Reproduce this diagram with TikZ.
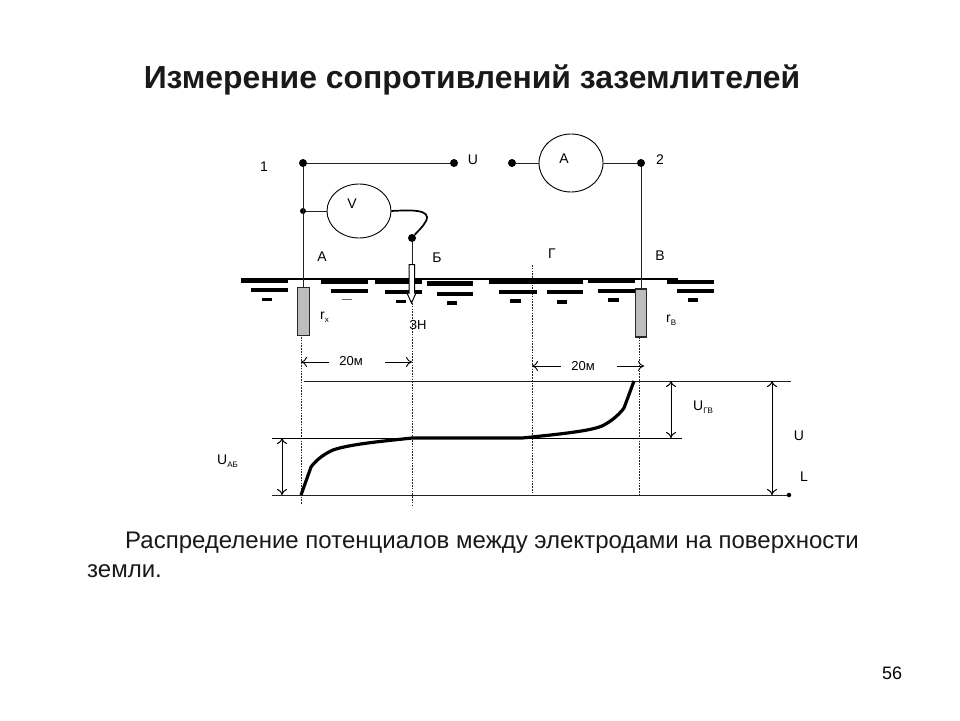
\documentclass[tikz,border=0pt]{standalone}
\usepackage{fontspec}
\setmainfont{Liberation Sans}
\usetikzlibrary{arrows.meta,shapes.geometric}
\newcommand{\fsz}[1]{\fontsize{#1}{#1}\selectfont}
\newcommand{\lbl}[2]{#1\raisebox{-2.5pt}{\fsz{8}#2}}
\definecolor{wire}{HTML}{222222}
\definecolor{elec}{HTML}{BDBDBD}
\tikzset{
  wireline/.style={draw=wire,line width=0.9pt},
  thinline/.style={draw=black,line width=1pt},
  levelline/.style={draw=wire,line width=0.9pt},
  dotnode/.style={circle,fill=black,inner sep=0pt,minimum size=8pt},
  smalldot/.style={circle,fill=black,inner sep=0pt,minimum size=6pt},
  enddot/.style={circle,fill=black,inner sep=0pt,minimum size=4.5pt},
  meter/.style={ellipse,draw=black,line width=0.9pt,fill=white,inner sep=0pt},
  electrode/.style={draw=black!85,line width=1.4pt,fill=elec},
  earthA/.style={line width=4.5pt,black},
  earthB/.style={line width=4pt,black},
  earthC/.style={line width=3.5pt,black},
  probe/.style={dash pattern=on 1.6pt off 1.2pt,line width=0.8pt,draw=wire},
  dimarrow/.style={line width=0.9pt,black,-{Computer Modern Rightarrow[length=6pt,width=10pt]}},
  dblarrow/.style={line width=1pt,black,{Computer Modern Rightarrow[length=6pt,width=10pt]}-{Computer Modern Rightarrow[length=6pt,width=10pt]}},
  curveline/.style={line width=3.2pt,black,line join=round},
  lab/.style={inner sep=0pt,font=\fsz{14}},
  sublab/.style={inner sep=0pt,font=\fsz{13}},
  ttl/.style={inner sep=0pt,font=\fsz{31.9}\bfseries,text=black!90},
  para/.style={inner sep=0pt,anchor=base west,font=\fsz{24},text=black!90}
}
\begin{document}
\begin{tikzpicture}[x=1pt,y=-1pt]
\path[use as bounding box,fill=white] (0,0) rectangle (960,720);
% title and text
\node[ttl] (title) at (472,80) {Измерение сопротивлений заземлителей};
\node[para] (p1) at (125,548) {Распределение потенциалов между электродами на поверхности};
\node[para] (p2) at (87,577) {земли.};
\node[lab,font=\fsz{18}] (page) at (892,673) {56};
% dashed verticals
\coordinate (dAt) at (301,337); \coordinate (dAb) at (301,505);
\coordinate (dBt) at (412,303); \coordinate (dBb) at (412,505);
\coordinate (dGt) at (532,265); \coordinate (dGb) at (532,495);
\coordinate (dVt) at (639,337); \coordinate (dVb) at (639,495);
\draw[probe] (dAt) -- (dAb);
\draw[probe] (dBt) -- (dBb);
\draw[probe] (dGt) -- (dGb);
\draw[probe] (dVt) -- (dVb);
% earth hatching
\draw[line width=2pt] (241,279) -- (678,279);
\draw[earthA] (241,280.5) -- (288,280.5);
\draw[earthA] (321,282) -- (368,282);
\draw[earthA] (375,282) -- (422,282);
\draw[earthA] (427,283.5) -- (473,283.5);
\draw[earthA] (489,282) -- (537,282);
\draw[earthA] (537,282) -- (583,282);
\draw[earthA] (588,281) -- (635,281);
\draw[earthA] (667,282) -- (714,282);
\draw[earthB] (251,290) -- (288,290);
\draw[earthB] (331,291) -- (368,291);
\draw[earthB] (385,292) -- (422,292);
\draw[earthB] (437,293.5) -- (473,293.5);
\draw[earthB] (499,292) -- (537,292);
\draw[earthB] (547,292) -- (583,292);
\draw[earthB] (598,291) -- (635,291);
\draw[earthB] (677,291) -- (714,291);
\draw[earthC] (262,299.5) -- (272,299.5);
\draw[line width=0.7pt,black!60] (342,299) -- (352,299);
\draw[earthC] (396,301.5) -- (406,301.5);
\draw[earthC] (447,303) -- (457,303);
\draw[earthC] (510,301) -- (521,301);
\draw[earthC] (557,302) -- (567,302);
\draw[earthC] (608,300) -- (619,300);
\draw[earthC] (688,300) -- (698,300);
% electrodes
\node[electrode,minimum width=12pt,minimum height=48pt,inner sep=0pt] (elA) at (303.5,311.5) {};
\node[electrode,minimum width=11pt,minimum height=48pt,inner sep=0pt] (elB) at (641,313) {};
% nodes of circuit
\node[dotnode] (d1) at (303,163) {};
\node[dotnode] (dU) at (454,163) {};
\node[smalldot] (jV) at (303,211) {};
\node[dotnode] (dL) at (512,163) {};
\node[dotnode] (d2) at (641,163) {};
\node[dotnode] (dP) at (412,238) {};
\node[meter,minimum width=64pt,minimum height=54pt] (V) at (359,211) {};
\node[meter,minimum width=64pt,minimum height=58pt] (A) at (571,163) {};
% wires
\draw[wireline] (d1) -- (dU);
\draw[wireline] (d1) -- (elA.north -| d1);
\draw[wireline] (jV) -- (V);
\draw[wireline] (dL) -- (A);
\draw[wireline] (A) -- (d2);
\draw[wireline] (d2) -- (elB.north -| d2);
\draw[line width=1.7pt,black] (V.east) .. controls (410,210) and (432,209) .. (426,221) .. controls (423,227) and (417,232) .. (dP);
% probe
\coordinate (prT) at (412,264.5);
\draw[wireline] (dP) -- (prT);
\draw[line width=1pt,black,fill=white] (409,264.5) -- (414.5,264.5) -- (414.5,293) -- (416,293) -- (411.5,303) -- (407,293) -- (409,293) -- cycle;
% level lines
\coordinate (tL) at (304,381); \coordinate (tR) at (791,381);
\coordinate (mL) at (272,438); \coordinate (mR) at (682,438);
\coordinate (bL) at (272,495);
\node[enddot] (bR) at (789,495) {};
\draw[levelline] (tL) -- (tR);
\draw[thinline] (mL) -- (mR);
\draw[levelline] (bL) -- (bR);
% potential curve
\draw[curveline] (301,495) -- (311,467) .. controls (316,460) and (324,454) .. (333,450) .. controls (350,444) and (385,441) .. (412,438) -- (522,438) -- (532,437) .. controls (560,434) and (590,431) .. (602,426) .. controls (610,422) and (618,416) .. (624,408) -- (634,381);
% dimension arrows
\coordinate (a1) at (329,362); \coordinate (a1e) at (301,362);
\coordinate (a2) at (385,362); \coordinate (a2e) at (412,362);
\coordinate (a3) at (561,366); \coordinate (a3e) at (532,366);
\coordinate (a4) at (617,366); \coordinate (a4e) at (644,366);
\draw[dimarrow] (a1) -- (a1e);
\draw[dimarrow] (a2) -- (a2e);
\draw[dimarrow] (a3) -- (a3e);
\draw[dimarrow] (a4) -- (a4e);
\coordinate (uab1) at (282,438); \coordinate (uab2) at (282,495);
\coordinate (ugv1) at (671,381); \coordinate (ugv2) at (671,438);
\coordinate (uu1) at (772,381); \coordinate (uu2) at (772,495);
\draw[dblarrow] (uab1) -- (uab2);
\draw[dblarrow] (ugv1) -- (ugv2);
\draw[dblarrow] (uu1) -- (uu2);
% labels
\node[lab] (t1) at (264,167) {1};
\node[lab] (tU) at (473,160) {U};
\node[lab] (tV) at (352,204) {V};
\node[lab] (tA) at (564,159) {А};
\node[lab] (t2) at (660,160) {2};
\node[lab] (tAA) at (322,257) {А};
\node[lab] (tB) at (437,258) {Б};
\node[lab] (tG) at (552,254) {Г};
\node[lab] (tVV) at (660,256) {В};
\node[lab,anchor=west] (rx) at (320,317) {\lbl{r}{х}};
\node[lab,anchor=west] (rv) at (666,320) {\lbl{r}{В}};
\node[sublab] (zn) at (418,325) {ЗН};
\node[sublab] (m1) at (351,361) {20м};
\node[sublab] (m2) at (583,366) {20м};
\node[lab,anchor=west] (uab) at (217,461) {\lbl{U}{АБ}};
\node[lab,anchor=west] (ugv) at (693,407) {\lbl{U}{ГВ}};
\node[lab] (tUU) at (799,436) {U};
\node[lab] (tL2) at (804,477) {L};
\end{tikzpicture}
\end{document}
